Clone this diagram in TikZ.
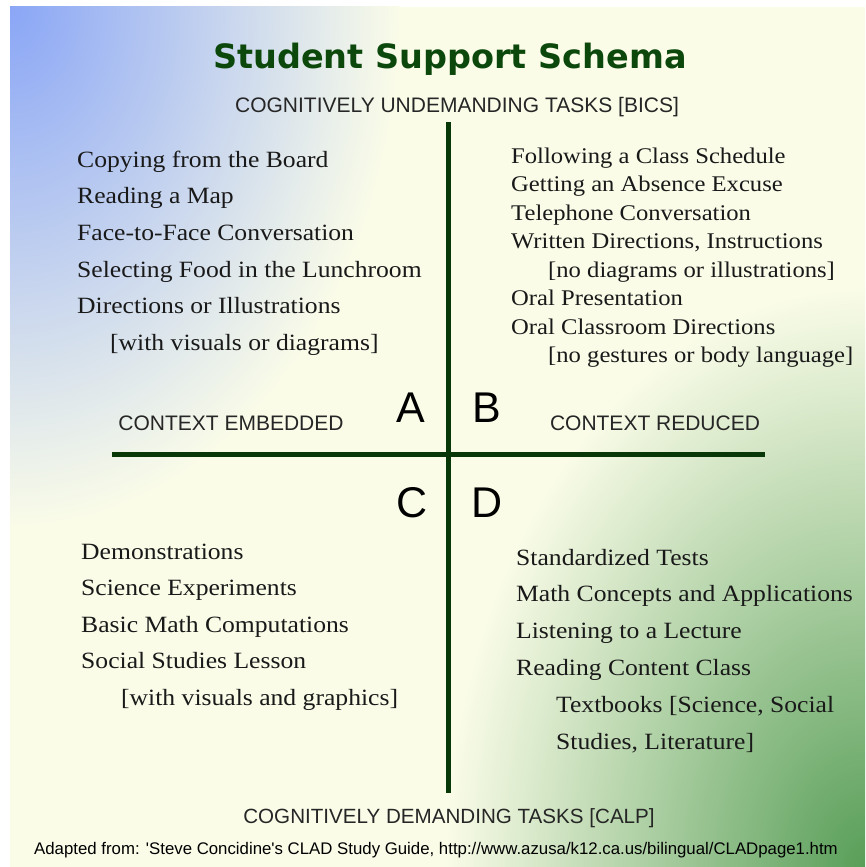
\documentclass[tikz,border=0pt]{standalone}
\usepackage{fontspec}
\setmainfont{Liberation Serif}[FakeStretch=1.10]
\newfontfamily\headfont{DejaVu Sans}
\newfontfamily\bandfont{Liberation Sans}

\definecolor{bgyellow}{RGB}{250,252,232}
\definecolor{bgblue}{RGB}{138,166,246}
\definecolor{bggreen}{RGB}{88,158,88}
\definecolor{axisgreen}{RGB}{8,56,8}
\definecolor{titlegreen}{RGB}{12,72,12}

\begin{document}
\begin{tikzpicture}[x=1pt,y=-1pt,
    title/.style = {font=\headfont\bfseries\fontsize{33.5}{36}\selectfont,
        text=titlegreen, inner sep=0, anchor=base},
    band/.style = {font=\bandfont\fontsize{21}{24}\selectfont,
        text=black!85, inner sep=0, anchor=base},
    quad/.style = {font=\bandfont\fontsize{43}{46}\selectfont,
        inner sep=0, anchor=base},
    item/.style = {font=\fontsize{23.3}{26}\selectfont,
        text=black!90, inner sep=0, anchor=base west},
    smallitem/.style = {font=\fontsize{22.4}{25}\selectfont,
        text=black!90, inner sep=0, anchor=base west},
    axis/.style = {line width=5pt, draw=axisgreen}]

\useasboundingbox (0,0) rectangle (865,867);

% Background
\fill[white] (0,0) rectangle (865,867);
\fill[bgyellow] (10,7) rectangle (865,867);
\begin{scope}
    \clip (10,7) rectangle (865,867);
    \shade[inner color=bgblue, outer color=bgyellow]
        (10,7) ellipse [x radius=390, y radius=520];
    \shade[inner color=bggreen, outer color=bgyellow]
        (865,867) ellipse [x radius=420, y radius=580];
\end{scope}

% Heading
\node[title] (title) at (450,68) {Student Support Schema};
\node[band] (bics) at (457,112) {COGNITIVELY UNDEMANDING TASKS [BICS]};

% Axes
\coordinate (top) at (448,122);
\coordinate (bottom) at (448,793);
\coordinate (left) at (112,454.5);
\coordinate (right) at (765,454.5);
\draw[axis] (top) -- (bottom);
\draw[axis] (left) -- (right);

% Quadrant letters
\node[quad] (A) at (411,422) {A};
\node[quad] (B) at (487,422) {B};
\node[quad] (C) at (412,517) {C};
\node[quad] (D) at (487,517) {D};

% Context labels
\node[band] (embedded) at (231,430) {CONTEXT EMBEDDED};
\node[band] (reduced) at (655,430) {CONTEXT REDUCED};

% Quadrant A
\foreach \txt [count=\i] in {Copying from the Board, Reading a Map,
    Face-to-Face Conversation, Selecting Food in the Lunchroom,
    Directions or Illustrations, \hspace*{33pt}[with visuals or diagrams]}
    \node[item] (a\i) at (77,{167+36.7*(\i-1)}) {\txt};

% Quadrant B
\foreach \txt [count=\i] in {Following a Class Schedule,
    Getting an Absence Excuse, Telephone Conversation,
    {Written Directions, Instructions},
    \hspace*{37pt}[no diagrams or illustrations], Oral Presentation,
    Oral Classroom Directions, \hspace*{37pt}[no gestures or body language]}
    \node[smallitem] (b\i) at (511,{163+28.5*(\i-1)}) {\txt};

% Quadrant C
\foreach \txt [count=\i] in {Demonstrations, Science Experiments,
    Basic Math Computations, Social Studies Lesson,
    \hspace*{40pt}[with visuals and graphics]}
    \node[item] (c\i) at (81,{559+36.5*(\i-1)}) {\txt};

% Quadrant D
\foreach \txt [count=\i] in {Standardized Tests,
    Math Concepts and Applications, Listening to a Lecture,
    Reading Content Class, {\hspace*{40pt}Textbooks [Science, Social},
    {\hspace*{40pt}Studies, Literature]}}
    \node[item] (d\i) at (516,{565+36.9*(\i-1)}) {\txt};

% Footer
\node[band, font=\bandfont\fontsize{20.6}{24}\selectfont] (calp) at (449,823)
    {COGNITIVELY DEMANDING TASKS [CALP]};
\node[font=\bandfont\fontsize{16.8}{18}\selectfont, inner sep=0, anchor=base]
    (source) at (436,854) {Adapted from: 'Steve Concidine's CLAD Study Guide, http://www.azusa/k12.ca.us/bilingual/CLADpage1.htm};

\end{tikzpicture}
\end{document}
